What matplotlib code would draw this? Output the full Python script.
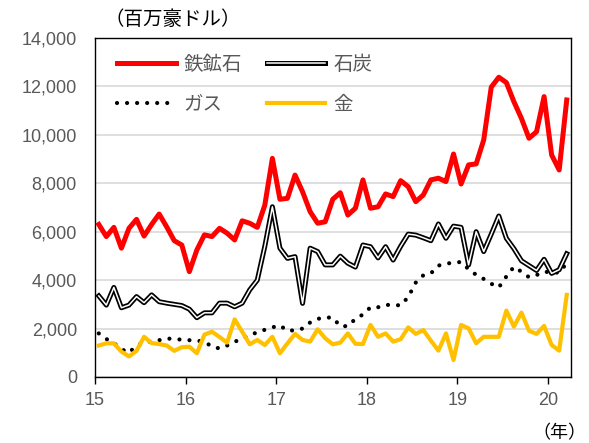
import matplotlib
matplotlib.use('Agg')
import matplotlib.pyplot as plt
import matplotlib.patheffects as pe
from matplotlib.ticker import FuncFormatter
import numpy as np

plt.rcParams['font.family'] = ['Liberation Sans', 'Noto Sans CJK JP']

# monthly export values (million AUD), Jan 2015 - Mar 2020
iron_ore = [6300, 5800, 6180, 5320, 6140, 6510, 5820, 6300, 6730, 6200,
            5630, 5450, 4350, 5250, 5870, 5800, 6140, 5940, 5660, 6450,
            6350, 6180, 7100, 9030, 7340, 7380, 8340, 7650, 6830, 6350,
            6410, 7340, 7610, 6690, 6970, 8140, 6970, 7030, 7560, 7450,
            8110, 7860, 7240, 7520, 8140, 8210, 8070, 9210, 7970, 8760,
            8800, 9790, 11970, 12380, 12160, 11370, 10680, 9860, 10130, 11580,
            9170, 8550, 11440]
coal = [3350, 2970, 3700, 2860, 2970, 3320, 3070, 3390, 3110, 3050,
        3000, 2950, 2800, 2450, 2650, 2650, 3050, 3050, 2900, 3050,
        3600, 4000, 5400, 7030, 5320, 4900, 4970, 3040, 5320, 5180,
        4630, 4630, 4990, 4700, 4540, 5450, 5380, 4920, 5380, 4830,
        5400, 5900, 5860, 5750, 5630, 6320, 5730, 6230, 6180, 4630,
        6000, 5180, 5900, 6650, 5730, 5300, 4800, 4600, 4400, 4860,
        4280, 4430, 5090]
gas = [1800, 1570, 1400, 1150, 1000, 1300, 1420, 1470, 1520, 1590,
       1570, 1540, 1520, 1500, 1460, 1250, 1180, 1300, 1450, 1600,
       1720, 1850, 1950, 2050, 2130, 1910, 1930, 2000, 2250, 2400,
       2460, 2450, 2100, 2100, 2400, 2580, 2880, 2880, 2980, 2970,
       2960, 3300, 3900, 4200, 4280, 4600, 4680, 4720, 4750, 4450,
       4220, 4050, 3850, 3700, 4150, 4550, 4350, 4120, 4210, 4350,
       4320, 4310, 4700]
gold = [1300, 1390, 1390, 1050, 850, 1080, 1660, 1400, 1360, 1300,
        1080, 1230, 1250, 980, 1750, 1870, 1650, 1420, 2380, 1870,
        1350, 1530, 1320, 1660, 980, 1390, 1780, 1530, 1460, 1970,
        1600, 1350, 1420, 1800, 1370, 1360, 2150, 1660, 1800, 1460,
        1560, 2050, 1780, 1940, 1500, 1090, 1800, 700, 2150, 2010,
        1390, 1660, 1660, 1660, 2740, 2080, 2660, 1910, 1780, 2110,
        1320, 1090, 3390]
year_labels = ['15', '16', '17', '18', '19', '20']

x = np.arange(len(iron_ore)) + 0.5

fig = plt.figure(figsize=(5.89, 4.43), dpi=100)
ax = fig.add_axes([0.1613, 0.149, 0.8073, 0.7652])

grey = '#595959'

l_iron, = ax.plot(x, iron_ore, color='#FF0000', lw=3.6, label='鉄鉱石', zorder=5)
l_coal, = ax.plot(x, coal, color='white', lw=1.1, label='石炭', zorder=4,
                  path_effects=[pe.Stroke(linewidth=3.6, foreground='black'),
                                pe.Normal()])
l_gas, = ax.plot(x, gas, color='black', lw=3.0, linestyle=(0, (0.01, 2.4)),
                 dash_capstyle='round', label='ガス', zorder=3)
l_gold, = ax.plot(x, gold, color='#FFC000', lw=3.0, label='金', zorder=3)

ax.set_xlim(0, len(iron_ore))
ax.set_ylim(0, 14000)
ax.set_yticks(np.arange(0, 14001, 2000))
ax.yaxis.set_major_formatter(FuncFormatter(lambda v, p: f'{int(v):,}'))
ax.set_xticks(np.arange(0, len(iron_ore), 12))
ax.set_xticklabels(year_labels)

ax.grid(axis='y', color='#D9D9D9', lw=1.2)
ax.set_axisbelow(True)
ax.tick_params(axis='y', length=0, pad=13, labelsize=13, labelcolor=grey)
ax.tick_params(axis='x', length=5, width=1, direction='out', pad=6,
               labelsize=13, labelcolor=grey)
for s in ax.spines.values():
    s.set_linewidth(1.0)
    s.set_color('black')

# row-wise order: 鉄鉱石 石炭 / ガス 金
leg = ax.legend([l_iron, l_gas, l_coal, l_gold],
                ['鉄鉱石', 'ガス', '石炭', '金'],
                loc='upper left', ncol=2, frameon=False,
                handlelength=3.0, columnspacing=1.3, handletextpad=0.4,
                labelspacing=1.0, bbox_to_anchor=(0.01, 1.005),
                prop={'family': 'Noto Sans CJK JP', 'size': 14})
for t in leg.get_texts():
    t.set_color(grey)

fig.text(0.293, 0.955, '（百万豪ドル）', ha='center', va='center',
         fontsize=14, family='Noto Sans CJK JP', color='black')
fig.text(0.950, 0.022, '（年）', ha='center', va='center',
         fontsize=13, family='Noto Sans CJK JP', color='black')

fig.savefig('out.png', dpi=100)
